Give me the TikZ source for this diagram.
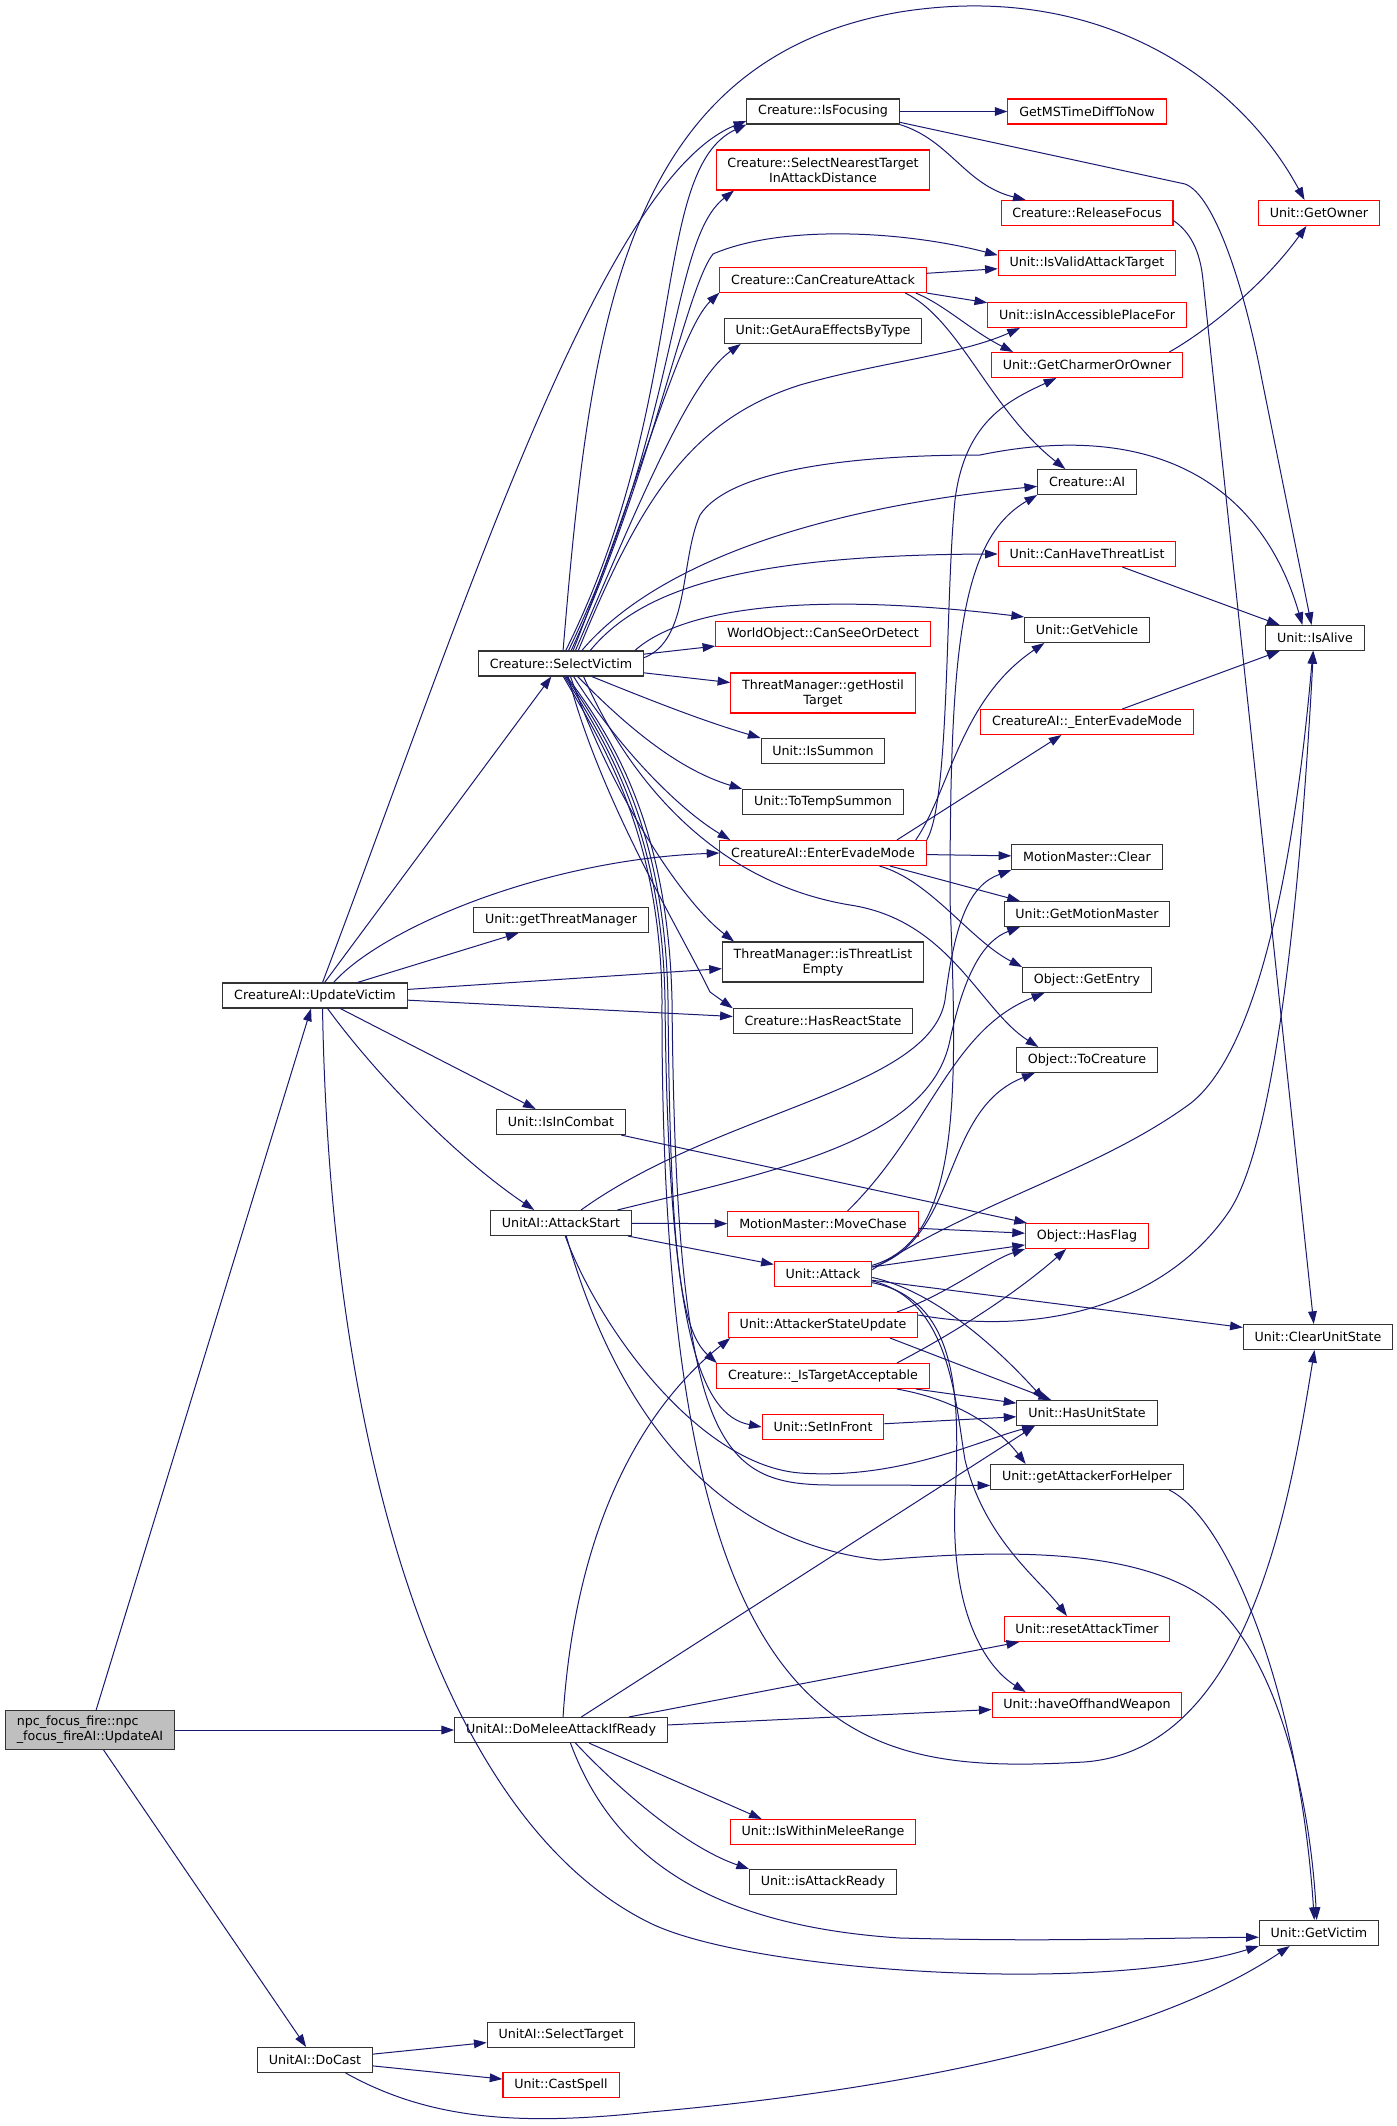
\documentclass[tikz,border=0pt]{standalone}
\usepackage{fontspec}
\setmainfont{DejaVu Sans}
\usetikzlibrary{arrows.meta}

\definecolor{edgeblue}{HTML}{191970}
\definecolor{boxred}{HTML}{FF0000}
\definecolor{rootgray}{HTML}{BFBFBF}

\tikzset{
  fn/.style={draw=black!80, line width=0.8pt, fill=white, font=\fontsize{9.5}{11.25}\selectfont,
    inner xsep=8.5pt, inner ysep=0pt, minimum height=18.75pt, align=center},
  fnred/.style={fn, draw=boxred},
  fnroot/.style={fn, fill=rootgray, align=left, minimum height=29.25pt},
  fntwo/.style={minimum height=30pt},
  call/.style={draw=edgeblue, line width=0.75pt, -{Triangle[length=9.5pt,width=6.5pt]}},
}

\begin{document}
\begin{tikzpicture}[x=0.75pt,y=-0.75pt]
\path[use as bounding box, fill=white] (0,0) rectangle (1396,2126);

\node[fnroot] (upai) at (90,1730) {npc\_focus\_fire::npc\\\_focus\_fireAI::UpdateAI};
\node[fn] (updvic) at (315,995.5) {CreatureAI::UpdateVictim};
\node[fn] (docast) at (315,2060) {UnitAI::DoCast};

\node[fn] (selvic) at (561,663.5) {Creature::SelectVictim};
\node[fn] (getthr) at (561,920) {Unit::getThreatManager};
\node[fn] (incombat) at (561,1122) {Unit::IsInCombat};
\node[fn] (atkstart) at (561,1223) {UnitAI::AttackStart};
\node[fn] (domelee) at (561,1730) {UnitAI::DoMeleeAttackIfReady};
\node[fn] (seltarget) at (561,2035) {UnitAI::SelectTarget};
\node[fnred] (castspell) at (561,2085) {Unit::CastSpell};

\node[fn] (isfocus) at (823,111.5) {Creature::IsFocusing};
\node[fnred,fntwo] (selnear) at (823,170) {Creature::SelectNearestTarget\\InAttackDistance};
\node[fnred] (cancreat) at (823,280) {Creature::CanCreatureAttack};
\node[fn] (getaura) at (823,331) {Unit::GetAuraEffectsByType};
\node[fnred] (canseeor) at (823,634) {WorldObject::CanSeeOrDetect};
\node[fnred,fntwo] (gethostil) at (823,693) {ThreatManager::getHostil\\Target};
\node[fn] (issummon) at (823,751) {Unit::IsSummon};
\node[fn] (totemp) at (823,802) {Unit::ToTempSummon};
\node[fnred] (evade) at (823,853) {CreatureAI::EnterEvadeMode};
\node[fn,fntwo] (isthrempty) at (823,962) {ThreatManager::isThreatList\\Empty};
\node[fn] (hasreact) at (823,1021) {Creature::HasReactState};
\node[fnred] (movechase) at (823,1224) {MotionMaster::MoveChase};
\node[fnred] (attack) at (823,1274) {Unit::Attack};
\node[fnred] (atkstate) at (823,1325) {Unit::AttackerStateUpdate};
\node[fnred] (istarget) at (823,1376) {Creature::\_IsTargetAcceptable};
\node[fnred] (setinfront) at (823,1427) {Unit::SetInFront};
\node[fnred] (withinmelee) at (823,1832) {Unit::IsWithinMeleeRange};
\node[fn] (atkready) at (823,1882) {Unit::isAttackReady};

\node[fnred] (getms) at (1087,111.5) {GetMSTimeDiffToNow};
\node[fnred] (release) at (1087,213) {Creature::ReleaseFocus};
\node[fnred] (validatk) at (1087,263) {Unit::IsValidAttackTarget};
\node[fnred] (accessible) at (1087,315) {Unit::isInAccessiblePlaceFor};
\node[fnred] (charmer) at (1087,365) {Unit::GetCharmerOrOwner};
\node[fn] (creatai) at (1087,482) {Creature::AI};
\node[fnred] (canthreat) at (1087,554) {Unit::CanHaveThreatList};
\node[fn] (vehicle) at (1087,630) {Unit::GetVehicle};
\node[fnred] (evadeint) at (1087,722) {CreatureAI::\_EnterEvadeMode};
\node[fn] (mmclear) at (1087,857) {MotionMaster::Clear};
\node[fn] (getmm) at (1087,914) {Unit::GetMotionMaster};
\node[fn] (getentry) at (1087,980) {Object::GetEntry};
\node[fn] (tocreat) at (1087,1060) {Object::ToCreature};
\node[fnred] (hasflag) at (1087,1236) {Object::HasFlag};
\node[fn] (hasunit) at (1087,1413) {Unit::HasUnitState};
\node[fn] (getatkhelp) at (1087,1477) {Unit::getAttackerForHelper};
\node[fnred] (resettimer) at (1087,1629) {Unit::resetAttackTimer};
\node[fnred] (offhand) at (1087,1705) {Unit::haveOffhandWeapon};

\node[fnred] (getowner) at (1319,213) {Unit::GetOwner};
\node[fn] (isalive) at (1315,638) {Unit::IsAlive};
\node[fn] (clearunit) at (1318,1337) {Unit::ClearUnitState};
\node[fn] (getvictim) at (1319,1933) {Unit::GetVictim};

\draw[call] (upai) -- (updvic);
\draw[call] (upai) -- (domelee);
\draw[call] (upai) -- (docast);

\draw[call] (updvic) -- (selvic);
\draw[call] (updvic.60) .. controls (460,620) and (600,180) .. (isfocus.187);
\draw[call] (updvic) -- (getthr);
\draw[call] (updvic) -- (isthrempty);
\draw[call] (updvic) -- (hasreact);
\draw[call] (updvic.35) .. controls (380,930) and (540,860) .. (evade.west);
\draw[call] (updvic) -- (incombat);
\draw[call] (updvic.-46) .. controls (380,1080) and (460,1160) .. (atkstart.154);
\draw[call] (updvic.-60) .. controls (330,1450) and (440,1820) .. (650,1923) .. controls (750,1972) and (1100,1995) .. (getvictim.south west);

\draw[call] (docast) -- (seltarget);
\draw[call] (docast) -- (castspell);
\draw[call] (docast.-23) .. controls (430,2120) and (520,2126) .. (650,2112) .. controls (900,2090) and (1150,2040) .. (getvictim.204);

\draw[call] (domelee.81) .. controls (575,1530) and (640,1410) .. (atkstate.188);
\draw[call] (domelee) -- (hasunit.194);
\draw[call] (domelee) -- (resettimer);
\draw[call] (domelee) -- (offhand);
\draw[call] (domelee.-25) -- (withinmelee.168);
\draw[call] (domelee.-42) .. controls (610,1780) and (680,1845) .. (atkready.north west);
\draw[call] (domelee.-54) .. controls (610,1850) and (700,1925) .. (900,1938) .. controls (1050,1942) and (1150,1938) .. (getvictim.184);

\draw[call] (atkstart) -- (movechase);
\draw[call] (atkstart) -- (attack);
\draw[call] (atkstart.33) .. controls (720,1110) and (930,1090) .. (945,1000) .. controls (955,920) and (970,885) .. (mmclear.south west);
\draw[call] (atkstart.13) .. controls (780,1170) and (930,1140) .. (950,1040) .. controls (965,970) and (985,940) .. (getmm.191);
\draw[call] (atkstart.-72) .. controls (600,1330) and (700,1465) .. (800,1473) .. controls (900,1480) and (980,1440) .. (hasunit.194);
\draw[call] (atkstart.-68) .. controls (610,1390) and (700,1540) .. (880,1560) .. controls (1000,1550) and (1150,1545) .. (1220,1610) .. controls (1280,1670) and (1310,1800) .. (getvictim.100);

\draw[call] (selvic.81) .. controls (590,330) and (620,60) .. (900,12) .. controls (1100,-20) and (1240,80) .. (getowner.138);
\draw[call] (selvic.70) .. controls (690,400) and (650,170) .. (isfocus.south west);
\draw[call] (selvic.60) .. controls (680,420) and (670,240) .. (selnear.193);
\draw[call] (selvic.52) .. controls (650,480) and (685,290) .. (713,254) .. controls (780,225) and (900,230) .. (validatk.175);
\draw[call] (selvic.47) .. controls (640,480) and (680,330) .. (cancreat.187);
\draw[call] (selvic.42) .. controls (640,500) and (690,380) .. (getaura.189);
\draw[call] (selvic.37) .. controls (640,500) and (690,420) .. (800,385) .. controls (880,362) and (960,355) .. (accessible.191);
\draw[call] (selvic.32) .. controls (650,570) and (800,510) .. (creatai.185);
\draw[call] (selvic.4) .. controls (690,640) and (680,560) .. (700,515) .. controls (730,470) and (850,455) .. (980,455) .. controls (1150,420) and (1260,480) .. (isalive.134);
\draw[call] (selvic.24) .. controls (640,590) and (740,555) .. (canthreat.west);
\draw[call] (selvic.10) .. controls (680,610) and (800,590) .. (vehicle.north west);
\draw[call] (selvic) -- (canseeor);
\draw[call] (selvic) -- (gethostil);
\draw[call] (selvic.-23) .. controls (650,700) and (700,720) .. (issummon.north west);
\draw[call] (selvic.-38) .. controls (630,730) and (680,770) .. (totemp.north west);
\draw[call] (selvic.-46) .. controls (620,750) and (680,810) .. (evade.172);
\draw[call] (selvic.-54) .. controls (610,790) and (680,900) .. (isthrempty.167);
\draw[call] (selvic.-61) .. controls (600,800) and (680,930) .. (710,992) -- (hasreact.172);
\draw[call] (selvic.-30) .. controls (620,760) and (700,880) .. (850,905) .. controls (950,920) and (980,1010) .. (tocreat.165);
\draw[call] (selvic.-70) .. controls (610,740) and (665,830) .. (668,1000) .. controls (670,1250) and (680,1330) .. (istarget.173);
\draw[call] (selvic.-75) .. controls (605,740) and (662,830) .. (665,1000) .. controls (668,1330) and (700,1415) .. (setinfront.west);
\draw[call] (selvic.-66) .. controls (615,740) and (668,830) .. (672,1000) .. controls (676,1450) and (720,1485) .. (833,1485) -- (getatkhelp.185);
\draw[call] (selvic.-80) .. controls (600,740) and (660,830) .. (662,1000) .. controls (660,1750) and (850,1775) .. (1084,1762) .. controls (1250,1750) and (1290,1500) .. (clearunit.-105);

\draw[call] (isfocus) -- (getms);
\draw[call] (isfocus.south east) .. controls (950,140) and (965,185) .. (release.168);
\draw[call] (isfocus.-8) -- (1185,184) .. controls (1215,195) and (1245,290) .. (1262,380) -- (isalive.105);

\draw[call] (cancreat) -- (validatk);
\draw[call] (cancreat.south east) -- (accessible.173);
\draw[call] (cancreat.-8) .. controls (945,305) and (970,330) .. (charmer.170);
\draw[call] (cancreat.-9) .. controls (960,320) and (990,410) .. (creatai.149);

\draw[call] (charmer.9) .. controls (1200,335) and (1260,290) .. (getowner.226);
\draw[call] (release.-5) .. controls (1190,232) and (1200,250) .. (1203,280) -- (clearunit.108);
\draw[call] (canthreat) -- (isalive);
\draw[call] (evadeint) -- (isalive);

\draw[call] (evade.10) -- (evadeint.207);
\draw[call] (evade.8) .. controls (950,790) and (960,700) .. (vehicle.197);
\draw[call] (evade.7) .. controls (950,800) and (945,600) .. (955,500) .. controls (965,420) and (1010,400) .. (charmer.203);
\draw[call] (evade) -- (mmclear);
\draw[call] (evade.-11) -- (getmm.169);
\draw[call] (evade.-13) .. controls (930,880) and (970,940) .. (getentry.north west);

\draw[call] (incombat) -- (hasflag);
\draw[call] (movechase) -- (hasflag);
\draw[call] (movechase.28) .. controls (930,1130) and (950,1030) .. (getentry.197);

\draw[call] (attack) -- (hasflag);
\draw[call] (attack) -- (clearunit);
\draw[call] (attack.8) .. controls (960,1240) and (940,1110) .. (tocreat.194);
\draw[call] (attack.10) .. controls (960,1240) and (958,1100) .. (950,900) .. controls (950,650) and (960,540) .. (creatai.south west);
\draw[call] (attack.5) .. controls (980,1200) and (1100,1170) .. (1191,1103) .. controls (1270,1040) and (1300,800) .. (isalive.-99);
\draw[call] (attack.-4) .. controls (930,1290) and (990,1340) .. (hasunit.163);
\draw[call] (attack.-8) .. controls (950,1300) and (955,1400) .. (965,1460) .. controls (985,1540) and (1040,1580) .. (resettimer.147);
\draw[call] (attack.-10) .. controls (960,1300) and (960,1400) .. (955,1500) .. controls (950,1620) and (990,1670) .. (offhand.168);

\draw[call] (atkstate.10) .. controls (950,1293) and (990,1260) .. (hasflag.south west);
\draw[call] (atkstate.-11) -- (hasunit.160);
\draw[call] (atkstate.6) .. controls (1050,1338) and (1170,1300) .. (1230,1210) .. controls (1275,1140) and (1300,900) .. (isalive.-97);

\draw[call] (istarget.10) .. controls (960,1330) and (1020,1290) .. (hasflag.212);
\draw[call] (istarget) -- (hasunit);
\draw[call] (istarget.-10) .. controls (960,1400) and (1000,1430) .. (getatkhelp.168);
\draw[call] (setinfront) -- (hasunit);
\draw[call] (getatkhelp.-9) .. controls (1230,1520) and (1300,1700) .. (getvictim.110);
\end{tikzpicture}
\end{document}
